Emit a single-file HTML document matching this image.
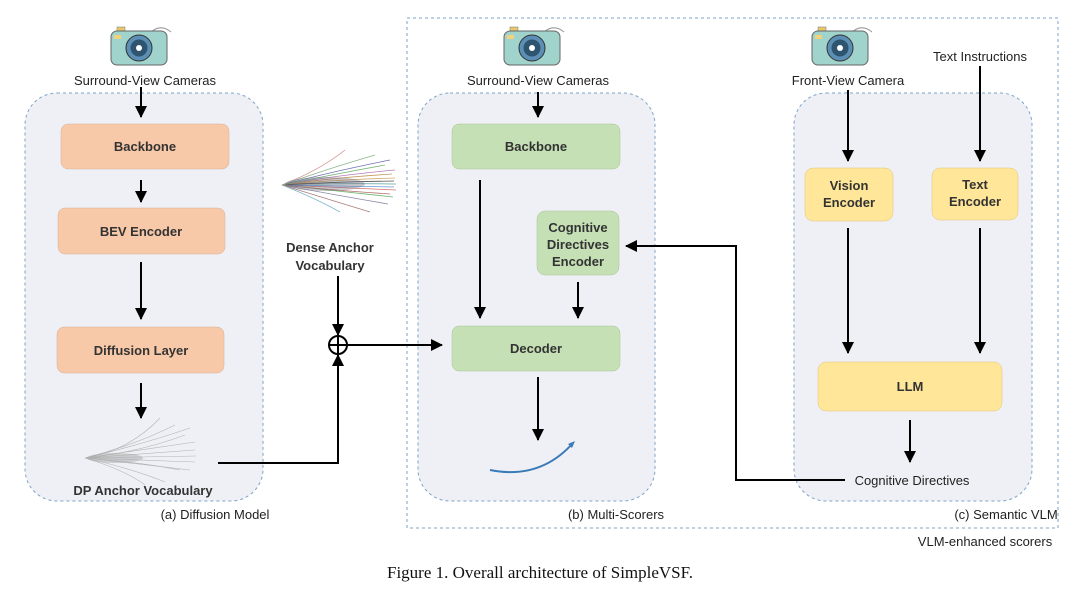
<!DOCTYPE html>
<html><head><meta charset="utf-8"><style>
body{margin:0;background:#fff;}
svg{display:block;}
text{font-family:"Liberation Sans",sans-serif;fill:#222;}
.b{font-size:13px;font-weight:bold;text-anchor:middle;fill:#333;}
.l{font-size:13px;text-anchor:middle;}
</style></head><body>
<svg width="1080" height="592" viewBox="0 0 1080 592" xmlns="http://www.w3.org/2000/svg">
<defs>
<marker id="ah2" markerWidth="12" markerHeight="12" refX="11" refY="6" orient="auto" markerUnits="userSpaceOnUse"><path d="M0,0 L12,6 L0,12 z" fill="#000"/></marker>
<g id="cam">
<path d="M8,-8 Q20,-22 32,-12" fill="none" stroke="#999" stroke-width="1"/>
<rect x="-22" y="-17" width="8" height="5" fill="#e8c86a" stroke="#777" stroke-width="0.5"/>
<rect x="-28" y="-13" width="56" height="34" rx="6" fill="#9fd3cc" stroke="#666" stroke-width="1"/>
<circle cx="0" cy="4" r="13" fill="#5b8fb5" stroke="#333" stroke-width="1"/>
<circle cx="0" cy="4" r="8.5" fill="#2f5470"/>
<circle cx="0" cy="4" r="3" fill="#fff"/>
<rect x="-25" y="-9" width="7" height="4" fill="#f2d27a"/>
</g>
</defs>

<rect x="407" y="18" width="651" height="510" fill="none" stroke="#7ea3c8" stroke-dasharray="3,3"/>

<rect x="25" y="93" width="238" height="408" rx="32" fill="#eff0f5" stroke="#7ea3c8" stroke-dasharray="3,3"/>
<rect x="418" y="93" width="237" height="408" rx="32" fill="#eff0f5" stroke="#7ea3c8" stroke-dasharray="3,3"/>
<rect x="794" y="93" width="238" height="408" rx="32" fill="#eff0f5" stroke="#7ea3c8" stroke-dasharray="3,3"/>

<use href="#cam" transform="translate(139,44)"/>
<use href="#cam" transform="translate(532,44)"/>
<use href="#cam" transform="translate(840,44)"/>
<text class="l" x="145" y="85">Surround-View Cameras</text>
<text class="l" x="538" y="85">Surround-View Cameras</text>
<text class="l" x="848" y="85">Front-View Camera</text>
<text class="l" x="980" y="61">Text Instructions</text>

<g fill="#f8c9a8" stroke="#d4b09a" stroke-width="0.5">
<rect x="61" y="124" width="168" height="45" rx="7"/>
<rect x="58" y="208" width="167" height="46" rx="7"/>
<rect x="57" y="327" width="167" height="46" rx="7"/>
</g>
<text class="b" x="145" y="151">Backbone</text>
<text class="b" x="141" y="236">BEV Encoder</text>
<text class="b" x="141" y="355">Diffusion Layer</text>

<g fill="#c5e0b4" stroke="#a9c49a" stroke-width="0.5">
<rect x="452" y="124" width="168" height="45" rx="7"/>
<rect x="537" y="211" width="82" height="64" rx="8"/>
<rect x="452" y="326" width="168" height="45" rx="7"/>
</g>
<text class="b" x="536" y="151">Backbone</text>
<text class="b" x="578" y="232">Cognitive</text>
<text class="b" x="578" y="249">Directives</text>
<text class="b" x="578" y="266">Encoder</text>
<text class="b" x="536" y="353">Decoder</text>

<g fill="#ffe699" stroke="#e0c27a" stroke-width="0.5">
<rect x="805" y="168" width="88" height="53" rx="8"/>
<rect x="932" y="168" width="86" height="52" rx="8"/>
<rect x="818" y="362" width="184" height="49" rx="8"/>
</g>
<text class="b" x="849" y="190">Vision</text>
<text class="b" x="849" y="207">Encoder</text>
<text class="b" x="975" y="189">Text</text>
<text class="b" x="975" y="206">Encoder</text>
<text class="b" x="910" y="391">LLM</text>

<!-- DP fan (gray) -->
<g stroke="#999" stroke-width="0.6" fill="none" opacity="0.7">
<path d="M85,458 Q130,450 160,418"/><path d="M85,458 Q135,445 175,425"/><path d="M85,458 Q140,445 190,428"/><path d="M85,458 Q140,450 195,442"/><path d="M85,458 Q140,454 195,450"/><path d="M85,458 Q140,457 196,456"/><path d="M85,458 Q140,460 195,462"/><path d="M85,458 Q140,464 190,470"/><path d="M85,458 Q130,468 165,482"/><path d="M85,458 Q125,470 145,485"/><path d="M85,458 Q140,452 185,435"/><path d="M85,458 Q140,462 180,470"/>
</g>
<ellipse cx="115" cy="458" rx="28" ry="5" fill="#aaa" opacity="0.5"/>

<!-- Dense fan (colorful) -->
<g fill="none" stroke-width="0.8" opacity="0.85">
<path d="M282,185 Q320,170 345,150" stroke="#c77"/><path d="M282,185 Q330,168 375,155" stroke="#7a7"/><path d="M282,185 Q330,172 390,160" stroke="#55a"/><path d="M282,185 Q330,176 395,170" stroke="#a6a"/><path d="M282,185 Q330,180 395,178" stroke="#c95"/><path d="M282,185 Q330,183 396,184" stroke="#599"/><path d="M282,185 Q330,187 396,190" stroke="#c55"/><path d="M282,185 Q330,190 393,197" stroke="#5a5"/><path d="M282,185 Q330,194 388,204" stroke="#779"/><path d="M282,185 Q325,198 370,212" stroke="#966"/><path d="M282,185 Q315,198 340,212" stroke="#6ab"/><path d="M282,185 Q330,178 392,174" stroke="#b84"/><path d="M282,185 Q330,186 394,187" stroke="#48c"/><path d="M282,185 Q330,182 394,181" stroke="#333"/><path d="M282,185 Q330,190 390,194" stroke="#a55"/><path d="M282,185 Q330,175 385,165" stroke="#6a6"/>
</g>
<ellipse cx="325" cy="184" rx="40" ry="7" fill="#667" opacity="0.35"/>
<text class="l" x="330" y="252" style="font-weight:bold;fill:#333">Dense Anchor</text>
<text class="l" x="330" y="270" style="font-weight:bold;fill:#333">Vocabulary</text>
<text class="l" x="143" y="495" style="font-weight:bold;fill:#333">DP Anchor Vocabulary</text>

<path d="M490,470 Q540,480 573,443" fill="none" stroke="#3a7ab8" stroke-width="2"/>
<path d="M568,444 L575,441 L572,448 z" fill="#3a7ab8"/>

<g stroke="#000" stroke-width="2" fill="none">
<line x1="141" y1="87" x2="141" y2="117" marker-end="url(#ah2)"/>
<line x1="141" y1="180" x2="141" y2="202" marker-end="url(#ah2)"/>
<line x1="141" y1="262" x2="141" y2="319" marker-end="url(#ah2)"/>
<line x1="141" y1="383" x2="141" y2="418" marker-end="url(#ah2)"/>
<polyline points="218,463 338,463 338,355" marker-end="url(#ah2)"/>
<line x1="338" y1="276" x2="338" y2="335" marker-end="url(#ah2)"/>
<line x1="347" y1="345" x2="442" y2="345" marker-end="url(#ah2)"/>
<circle cx="338" cy="345" r="9"/>
<line x1="329" y1="345" x2="347" y2="345"/><line x1="338" y1="336" x2="338" y2="354"/>
<line x1="538" y1="92" x2="538" y2="117" marker-end="url(#ah2)"/>
<line x1="480" y1="180" x2="480" y2="318" marker-end="url(#ah2)"/>
<line x1="578" y1="282" x2="578" y2="318" marker-end="url(#ah2)"/>
<line x1="538" y1="377" x2="538" y2="440" marker-end="url(#ah2)"/>
<polyline points="845,480 736,480 736,246 626,246" marker-end="url(#ah2)"/>
<line x1="848" y1="90" x2="848" y2="161" marker-end="url(#ah2)"/>
<line x1="980" y1="66" x2="980" y2="161" marker-end="url(#ah2)"/>
<line x1="848" y1="228" x2="848" y2="353" marker-end="url(#ah2)"/>
<line x1="980" y1="228" x2="980" y2="353" marker-end="url(#ah2)"/>
<line x1="910" y1="420" x2="910" y2="462" marker-end="url(#ah2)"/>
</g>
<text class="l" x="912" y="485">Cognitive Directives</text>

<text class="l" x="215" y="519">(a) Diffusion Model</text>
<text class="l" x="616" y="519">(b) Multi-Scorers</text>
<text class="l" x="1006" y="519">(c) Semantic VLM</text>
<text class="l" x="985" y="546">VLM-enhanced scorers</text>

<text x="540" y="578" style="font-family:'Liberation Serif',serif;font-size:17px;text-anchor:middle;fill:#111">Figure 1. Overall architecture of SimpleVSF.</text>
</svg>
</body></html>
